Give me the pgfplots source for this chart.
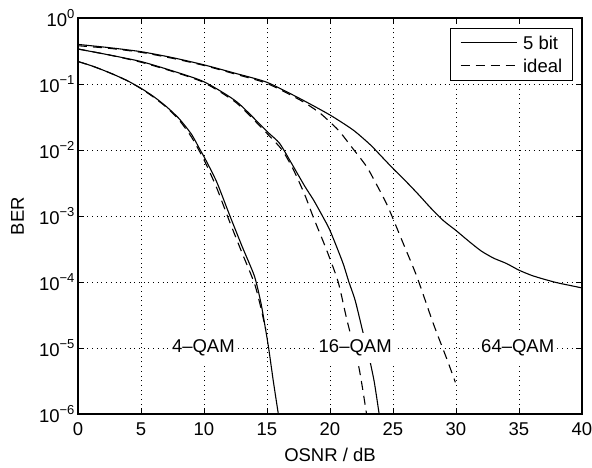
\documentclass[border=0pt]{standalone}
\usepackage{fontspec}
\setmainfont{Liberation Sans}
\usepackage{pgfplots}
\pgfplotsset{compat=1.18}
\newcommand{\pw}[1]{10\raisebox{0.42em}{\fontsize{13}{13}\selectfont #1}}
\begin{document}
\begin{tikzpicture}[font=\fontsize{18.5}{22}\selectfont]
\begin{axis}[
  scale only axis, width=504pt, height=396pt,
  xmin=0, xmax=40, ymode=log, ymin=1e-6, ymax=1,
  xtick={0,5,...,40},
  ytick={1e-6,1e-5,1e-4,1e-3,1e-2,1e-1,1},
  yticklabels={\pw{−6},\pw{−5},\pw{−4},\pw{−3},\pw{−2},\pw{−1},\pw{0}},
  yminorticks=false,
  /pgf/number format/assume math mode=true,
  tick label style={font=\fontsize{18.5}{22}\selectfont},
  xticklabel style={yshift=-5pt},
  tick align=inside, major tick length=5pt,
  tick style={black, line width=0.8pt},
  axis line style={line width=1.2pt},
  grid=major,
  major grid style={black, line width=0.9pt, dash pattern=on 0.9pt off 3.8pt},
  xlabel={OSNR / dB}, ylabel={BER},
  label style={font=\fontsize{18.5}{22}\selectfont},
  xlabel style={at={(axis description cs:0.5,-0.1035)}, anchor=center},
  ylabel style={at={(axis description cs:-0.12,0.5)}, anchor=center, rotate=0},
  legend style={at={(axis description cs:0.9815,0.9755)}, anchor=north east,
    draw=black, line width=0.9pt, inner xsep=10pt, inner ysep=7.5pt,
    font=\fontsize{18.5}{22}\selectfont,
    nodes={inner xsep=0pt, inner ysep=0pt, text depth=0pt},
    row sep=10pt},
  legend cell align=left,
  legend image code/.code={\draw[#1, line width=1.1pt] (0pt,0pt) -- (56pt,0pt);\path (62pt,0pt);},
  every axis plot/.append style={line width=1.1pt, black, smooth, tension=0.4},
]
% 4-QAM, 5 bit
\addplot[solid] coordinates {(0,0.219)(1,0.191)(2,0.162)(3,0.135)(4,0.110)(5,0.0861)(6,0.0646)(7,0.0457)(8,0.0302)(9,0.0174)(9.7,0.01)(10,0.00794)(11,0.00331)(12,0.00107)(13,0.000355)(14,0.000123)(14.5,5.01e-5)(14.8,2.40e-5)(15.13,1e-5)(15.5,3.16e-6)(15.9,1e-6)};
\addlegendentry{5 bit}
% 4-QAM ideal
\addplot[dash pattern=on 9pt off 6pt] coordinates {(0,0.219)(1,0.191)(2,0.162)(3,0.135)(4,0.110)(5,0.0851)(6,0.0631)(7,0.0447)(8,0.0288)(9,0.0158)(10,0.00708)(11,0.00269)(12,0.000851)(13,0.000282)(14,9.55e-5)(14.5,4.17e-5)(14.9,1.9e-5)};
\addlegendentry{ideal}
% 16-QAM, 5 bit
\addplot[solid] coordinates {(0,0.339)(2.5,0.275)(5,0.219)(7.5,0.158)(10,0.108)(12.6,0.0537)(15,0.0191)(16,0.0126)(17,0.00603)(18,0.00282)(18.7,0.00174)(19.4,0.001)(20,0.000603)(21,0.000200)(21.5,1e-4)(22,5.25e-5)(22.6,1.78e-5)(23.0,8.91e-6)(23.5,3.16e-6)(23.9,1e-6)};
% 16-QAM ideal
\addplot[dash pattern=on 9pt off 6pt] coordinates {(0,0.339)(2.5,0.275)(5,0.214)(7.5,0.155)(10,0.105)(12.6,0.0513)(15,0.0178)(16.2,0.01)(17.1,0.00501)(18,0.00209)(18.7,0.000933)(19.7,0.000316)(20.65,1e-4)(21.35,2.63e-5)(22.3,5.01e-6)(22.9,1e-6)};
% 64-QAM, 5 bit
\addplot[solid] coordinates {(0,0.398)(2.5,0.355)(5,0.309)(7.5,0.251)(10,0.195)(12.5,0.145)(15,0.106)(17.6,0.0603)(20,0.0339)(21.85,0.0200)(23.2,0.0120)(24,0.00832)(25,0.00525)(26,0.00339)(27,0.00214)(28,0.00132)(29,0.000851)(30,0.000603)(31,0.000417)(32,0.000295)(33,0.000229)(34,0.000191)(35,0.000151)(36,0.000126)(37,0.000110)(38,9.77e-5)(39,8.91e-5)(40,8.13e-5)};
% 64-QAM ideal
\addplot[dash pattern=on 9pt off 6pt] coordinates {(0,0.380)(2.5,0.347)(5,0.302)(7.5,0.245)(10,0.191)(12.5,0.141)(15,0.102)(17.6,0.0575)(19.2,0.0363)(20.66,0.0200)(21.7,0.0112)(22.9,0.00562)(23.8,0.00275)(24.6,0.00138)(25.8,0.000389)(26.9,0.000120)(28.2,2.34e-5)(29.3,6.61e-6)(29.95,3.02e-6)};
\node[fill=white, inner xsep=2pt, minimum height=30pt] at (axis cs:9.95,1e-5) {4--QAM};
\node[fill=white, inner xsep=2pt, minimum height=30pt] at (axis cs:22.0,1e-5) {16--QAM};
\node[fill=white, inner xsep=2pt, minimum height=30pt] at (axis cs:34.9,1e-5) {64--QAM};
\coordinate (bl) at (rel axis cs:0,0);
\coordinate (tr) at (rel axis cs:1,1);
\end{axis}
\pgfresetboundingbox
\useasboundingbox ([shift={(-78pt,-54pt)}]bl) rectangle ([shift={(10pt,18pt)}]tr);
\end{tikzpicture}
\end{document}
